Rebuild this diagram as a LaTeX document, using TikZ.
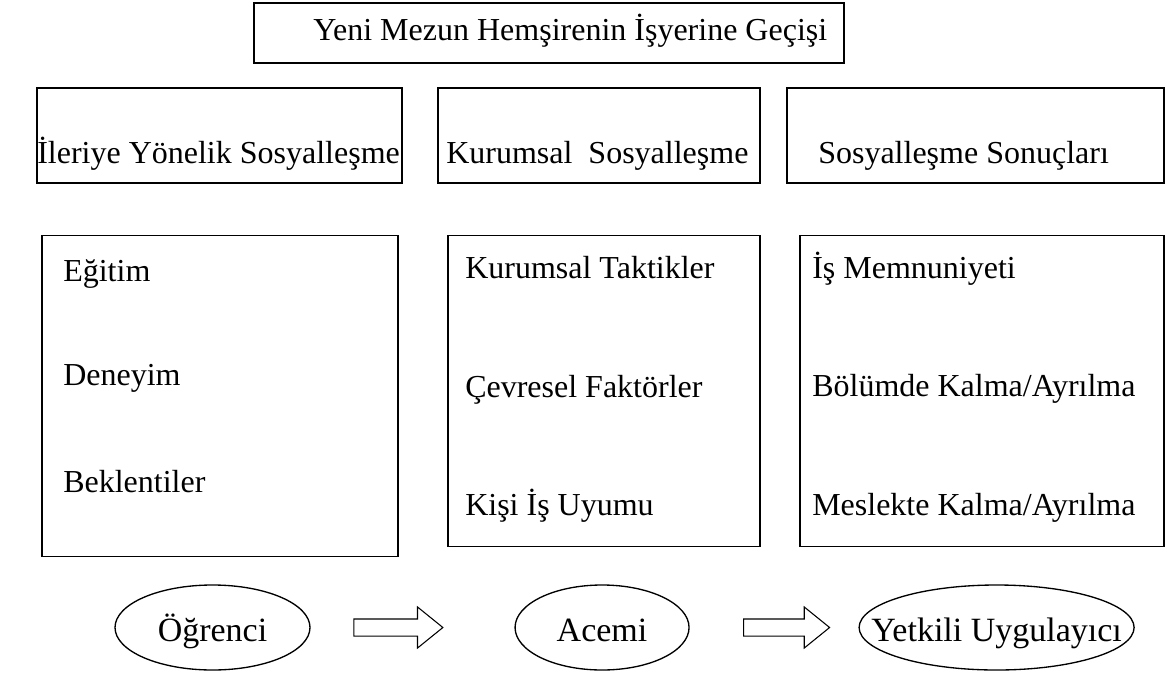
\documentclass[tikz,border=0pt]{standalone}
\usepackage{fontspec}
\setmainfont{Liberation Serif}
\usetikzlibrary{positioning,shapes.geometric,shapes.arrows}

\begin{document}
\begin{tikzpicture}[x=0.75pt,y=-0.75pt,
  kutu/.style={draw,line width=1pt,inner sep=0pt},
  yazi/.style={anchor=base west,inner sep=0pt,font=\fontsize{24}{28}\selectfont},
  oval/.style={draw,ellipse,line width=1pt,inner sep=0pt,minimum height=63.75pt},
  blokok/.style={draw,single arrow,line width=0.8pt,inner sep=0pt,text height=12pt,text depth=0pt,minimum height=66.75pt,single arrow head extend=9pt,single arrow tip angle=78}]
  \useasboundingbox (0,0) rectangle (1167,675);

  \node[kutu,minimum width=442.5pt,minimum height=45pt] (baslik) at (549,33) {};
  \node[yazi] (tbaslik) at (313,40) {Yeni Mezun Hemşirenin İşyerine Geçişi};

  \node[kutu,minimum width=273.75pt,minimum height=71.25pt] (b1) at (219.5,135.5) {};
  \node[kutu,minimum width=241.5pt,minimum height=71.25pt] (b2) at (599,135.5) {};
  \node[kutu,minimum width=282.75pt,minimum height=71.25pt] (b3) at (975.5,135.5) {};
  \node[yazi] (tb1) at (37,163) {İleriye Yönelik Sosyalleşme};
  \node[yazi] (tb2) at (446,163) {Kurumsal\ \ Sosyalleşme};
  \node[yazi] (tb3) at (818,163) {Sosyalleşme Sonuçları};

  \node[kutu,minimum width=267pt,minimum height=240.75pt] (k1) at (220,396) {};
  \node[kutu,minimum width=234pt,minimum height=233.25pt] (k2) at (604,391) {};
  \node[kutu,minimum width=273pt,minimum height=233.25pt] (k3) at (982,391) {};

  \node[yazi] (egitim) at (63,281) {Eğitim};
  \node[yazi] (deneyim) at (63,385) {Deneyim};
  \node[yazi] (beklenti) at (63,492) {Beklentiler};

  \node[yazi] (taktik) at (465,278) {Kurumsal Taktikler};
  \node[yazi] (cevre) at (465,397) {Çevresel Faktörler};
  \node[yazi] (uyum) at (465,515) {Kişi İş Uyumu};

  \node[yazi] (memnun) at (812,278) {İş Memnuniyeti};
  \node[yazi] (bolum) at (812,396) {Bölümde Kalma/Ayrılma};
  \node[yazi] (meslek) at (812,515) {Meslekte Kalma/Ayrılma};

  \node[oval,minimum width=146.25pt] (ogrenci) at (212.5,627.5) {};
  \node[blokok,right=32pt of ogrenci] (ok1) {};
  \node[oval,minimum width=130.5pt,right=53pt of ok1] (acemi) {};
  \node[blokok,minimum height=64.5pt,right=40pt of acemi] (ok2) {};
  \node[oval,minimum width=206.25pt,right=21pt of ok2] (yetkili) {};
  \node[yazi,anchor=base,font=\fontsize{25.5}{30}\selectfont] (togrenci) at ([yshift=-10.5pt]ogrenci.center) {Öğrenci};
  \node[yazi,anchor=base,font=\fontsize{25.5}{30}\selectfont] (tacemi) at ([yshift=-10.5pt]acemi.center) {Acemi};
  \node[yazi,anchor=base,font=\fontsize{25.5}{30}\selectfont] (tyetkili) at ([yshift=-10.5pt]yetkili.center) {Yetkili Uygulayıcı};
\end{tikzpicture}
\end{document}
